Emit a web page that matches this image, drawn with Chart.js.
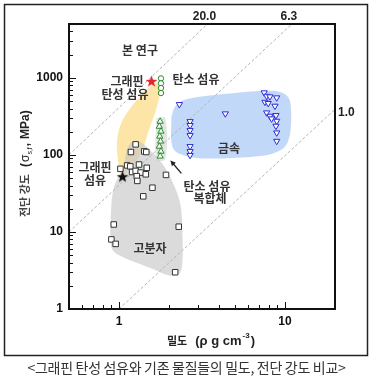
<!DOCTYPE html>
<html>
<head>
<meta charset="utf-8">
<script src="https://cdn.jsdelivr.net/npm/chart.js@4/dist/chart.umd.min.js"></script>
<style>
  body { margin: 0; background: #fff; width: 373px; height: 392px; position: relative; overflow: hidden; }
  #chart { position: absolute; left: 0; top: 0; }
  #caption { position: absolute; left: 0; top: 357px; width: 373px; text-align: center;
             font: 14px "Noto Sans CJK KR", sans-serif; color: #333; line-height: 20px; letter-spacing: -0.3px; }
</style>
</head>
<body>
<canvas id="chart" width="373" height="358"></canvas>
<div id="caption">&lt;그래핀 탄성 섬유와 기존 물질들의 밀도, 전단 강도 비교&gt;</div>
<script>
// axis ticks (밀도 / 전단 강도)
const densityTicks = [1, 10];
const strengthTicks = [1, 10, 100, 1000];

// 본 연구 - 그래핀 탄성 섬유
const elasticFiber = [{x: 1.57, y: 900}];
// 기존 그래핀 섬유
const grapheneFiber = [{x: 1.05, y: 52}];
// 탄소 섬유
const carbonFiber = [{x: 1.79, y: 985}, {x: 1.79, y: 849}, {x: 1.79, y: 737}, {x: 1.79, y: 635}];
// 탄소 섬유 복합체
const carbonComposite = [
    {x: 1.77, y: 272}, {x: 1.75, y: 234}, {x: 1.79, y: 202}, {x: 1.76, y: 174},
    {x: 1.78, y: 150}, {x: 1.75, y: 129}, {x: 1.79, y: 111}, {x: 1.77, y: 96}
];
// 금속
const metals = [
    {x: 2.31, y: 453}, {x: 4.37, y: 343},
    {x: 2.68, y: 272}, {x: 2.68, y: 242}, {x: 2.68, y: 208}, {x: 2.68, y: 179},
    {x: 2.68, y: 129}, {x: 2.68, y: 111}, {x: 2.68, y: 99},
    {x: 7.49, y: 643}, {x: 7.75, y: 580}, {x: 8.11, y: 570}, {x: 8.91, y: 553},
    {x: 7.57, y: 485}, {x: 7.92, y: 467}, {x: 8.70, y: 431}, {x: 7.75, y: 353},
    {x: 8.11, y: 319}, {x: 8.82, y: 326}, {x: 8.30, y: 295}, {x: 8.91, y: 275},
    {x: 8.82, y: 237}, {x: 8.91, y: 194}, {x: 8.91, y: 151}
];
// 고분자
const polymers = [
    {x: 1.26, y: 137}, {x: 1.18, y: 109}, {x: 1.42, y: 111}, {x: 1.46, y: 109},
    {x: 1.02, y: 66}, {x: 1.12, y: 73}, {x: 1.17, y: 71}, {x: 1.32, y: 75},
    {x: 1.47, y: 68}, {x: 1.20, y: 60}, {x: 1.26, y: 62}, {x: 1.35, y: 59},
    {x: 1.45, y: 56}, {x: 1.28, y: 53}, {x: 1.29, y: 46}, {x: 1.92, y: 55},
    {x: 1.59, y: 37.5}, {x: 1.40, y: 29}, {x: 0.93, y: 12.5}, {x: 2.29, y: 11.7},
    {x: 0.90, y: 8.0}, {x: 0.955, y: 7.0}, {x: 2.18, y: 3.0}
];

// shaded regions (outline vertices)
const elasticRegion = [
    {x: 1.014, y: 55.8}, {x: 0.972, y: 118}, {x: 0.986, y: 185}, {x: 1.043, y: 272},
    {x: 1.182, y: 414}, {x: 1.418, y: 648}, {x: 1.585, y: 800}, {x: 1.747, y: 849},
    {x: 1.772, y: 668}, {x: 1.676, y: 390}, {x: 1.52, y: 214}, {x: 1.398, y: 125},
    {x: 1.25, y: 80}, {x: 1.118, y: 61}, {x: 1.014, y: 55.8}
];
const polymerRegion = [
    {x: 1.072, y: 64.8}, {x: 1.118, y: 118}, {x: 1.216, y: 150}, {x: 1.36, y: 145},
    {x: 1.52, y: 118}, {x: 1.797, y: 80}, {x: 2.096, y: 45.3}, {x: 2.343, y: 22.8},
    {x: 2.41, y: 9.3}, {x: 2.41, y: 4.14}, {x: 2.31, y: 2.89}, {x: 2.01, y: 2.72},
    {x: 1.63, y: 3.26}, {x: 0.959, y: 5.26}, {x: 0.894, y: 6.88}, {x: 0.894, y: 16.9},
    {x: 0.92, y: 33.6}, {x: 0.986, y: 51}, {x: 1.072, y: 64.8}
];
const metalRegion = [
    {x: 2.066, y: 307}, {x: 2.185, y: 427}, {x: 2.547, y: 526}, {x: 4.84, y: 629},
    {x: 8.46, y: 678}, {x: 10.0, y: 611}, {x: 10.72, y: 495}, {x: 10.87, y: 249},
    {x: 10.43, y: 150}, {x: 9.59, y: 118}, {x: 7.56, y: 98.5}, {x: 3.18, y: 90},
    {x: 2.375, y: 101}, {x: 2.096, y: 129}, {x: 2.066, y: 307}
];
const compositeRegion = [
    {x: 1.68, y: 300}, {x: 1.90, y: 300}, {x: 1.90, y: 88}, {x: 1.68, y: 88}, {x: 1.68, y: 300}
];

// specific strength guide lines
const guide20 = [{x: 0.5, y: 100}, {x: 3.41, y: 5000}];
const guide63 = [{x: 0.5, y: 10}, {x: 11, y: 5000}];
const guide10 = [{x: 1, y: 1}, {x: 20, y: 390}];
const guideLabels = ['20.0', '6.3', '1.0'];

const KR = '"Noto Sans CJK KR", sans-serif';
const LAT = '"Liberation Sans", Arial, sans-serif';

function makeStar(color) {
    const c = document.createElement('canvas');
    c.width = 13; c.height = 13;
    const g = c.getContext('2d');
    g.beginPath();
    for (let i = 0; i < 10; i++) {
        const r = i % 2 === 0 ? 6.2 : 2.5;
        const a = -Math.PI / 2 + i * Math.PI / 5;
        const px = 6.5 + Math.cos(a) * r, py = 6.8 + Math.sin(a) * r;
        if (i === 0) g.moveTo(px, py); else g.lineTo(px, py);
    }
    g.closePath();
    g.fillStyle = color;
    g.fill();
    return c;
}

function region(data, color) {
    return {
        data: data, showLine: true, fill: 'shape', backgroundColor: color,
        borderWidth: 0, borderColor: 'rgba(0,0,0,0)', pointRadius: 0, tension: 0.35, order: 10
    };
}
function guide(data) {
    return {
        data: data, showLine: true, fill: false, borderColor: '#b4b4b4', borderWidth: 1,
        borderDash: [3, 2], pointRadius: 0, order: 5
    };
}
function marks(data, style, color, radius, rotation) {
    return {
        data: data, pointStyle: style, pointRadius: radius, rotation: rotation || 0,
        borderColor: color, backgroundColor: '#fff', pointBorderWidth: 1, borderWidth: 1, order: 1
    };
}

const decor = {
    id: 'decor',
    afterDraw(chart) {
        const {ctx, chartArea: a, scales: {x, y}} = chart;
        ctx.save();

        // outer frame and plot box
        ctx.strokeStyle = '#222';
        ctx.lineWidth = 1.5;
        ctx.strokeRect(4.5, 4.5, 363, 351);
        ctx.lineWidth = 2;
        ctx.strokeStyle = '#111';
        ctx.strokeRect(a.left, a.top, a.right - a.left, a.bottom - a.top);

        // inward tick marks
        ctx.lineWidth = 1;
        ctx.beginPath();
        for (let d = 1; d <= 1000; d *= 10) {
            for (let k = 1; k <= 9; k++) {
                const v = k * d;
                if (v > 5000) break;
                const py = Math.round(y.getPixelForValue(v)) + 0.5;
                const len = k === 1 ? 7 : 4;
                ctx.moveTo(a.left, py); ctx.lineTo(a.left + len, py);
            }
        }
        for (let d = 0.1; d <= 10; d *= 10) {
            for (let k = 1; k <= 9; k++) {
                const v = k * d;
                if (v <= 0.5 || v >= 20) continue;
                const px = Math.round(x.getPixelForValue(v)) + 0.5;
                const len = k === 1 ? 7 : 4;
                ctx.moveTo(px, a.bottom); ctx.lineTo(px, a.bottom - len);
            }
        }
        ctx.stroke();

        // guide line labels
        ctx.fillStyle = '#222';
        ctx.font = 'bold 12px ' + LAT;
        ctx.textBaseline = 'middle';
        ctx.textAlign = 'center';
        ctx.fillText(guideLabels[0], x.getPixelForValue(guide20[1].x) - 3, 17);
        ctx.fillText(guideLabels[1], x.getPixelForValue(guide63[1].x) - 3, 17);
        ctx.textAlign = 'left';
        ctx.fillText(guideLabels[2], a.right + 3, y.getPixelForValue(guide10[1].y) + 3);

        // region / material labels
        ctx.fillStyle = '#333';
        ctx.font = 'bold 12px ' + KR;
        ctx.textAlign = 'center';
        const labels = [
            ['본 연구', 140, 50], ['그래핀', 127, 81], ['탄성 섬유', 125, 94],
            ['탄소 섬유', 196, 79], ['그래핀', 95, 167], ['섬유', 95, 180],
            ['탄소 섬유', 207, 186], ['복합체', 210, 198], ['금속', 229, 148], ['고분자', 150, 248]
        ];
        labels.forEach(l => ctx.fillText(l[0], l[1], l[2]));

        // arrow toward carbon fibre composites
        const tx = x.getPixelForValue(2.375), ty = y.getPixelForValue(57.5);
        const hx = x.getPixelForValue(2.04), hy = y.getPixelForValue(84.8);
        const ang = Math.atan2(hy - ty, hx - tx);
        ctx.strokeStyle = '#222';
        ctx.lineWidth = 1.3;
        ctx.beginPath();
        ctx.moveTo(tx, ty);
        ctx.lineTo(hx - Math.cos(ang) * 4, hy - Math.sin(ang) * 4);
        ctx.stroke();
        ctx.fillStyle = '#222';
        ctx.beginPath();
        ctx.moveTo(hx, hy);
        ctx.lineTo(hx - Math.cos(ang - 0.45) * 6, hy - Math.sin(ang - 0.45) * 6);
        ctx.lineTo(hx - Math.cos(ang + 0.45) * 6, hy - Math.sin(ang + 0.45) * 6);
        ctx.closePath();
        ctx.fill();

        // x axis title: 밀도 (ρ g cm-3)
        ctx.textAlign = 'left';
        ctx.textBaseline = 'alphabetic';
        ctx.fillStyle = '#222';
        let cx = 167;
        const by = 345;
        ctx.font = 'bold 11px ' + KR;
        ctx.fillText('밀도', cx, by);
        cx += ctx.measureText('밀도').width + 8;
        ctx.font = 'bold 13px ' + LAT;
        ctx.fillText('(ρ g cm', cx, by);
        cx += ctx.measureText('(ρ g cm').width + 1;
        ctx.font = 'bold 8px ' + LAT;
        ctx.fillText('-3', cx, by - 7);
        cx += ctx.measureText('-3').width + 1;
        ctx.font = 'bold 13px ' + LAT;
        ctx.fillText(')', cx, by);

        // y axis title: 전단 강도 (σs,f MPa)
        ctx.translate(29, 217);
        ctx.rotate(-Math.PI / 2);
        let cy = 0;
        ctx.font = 'bold 11px ' + KR;
        ctx.fillStyle = '#444';
        ctx.fillText('전단 강도', cy, 0);
        cy += ctx.measureText('전단 강도').width + 7;
        ctx.fillStyle = '#222';
        ctx.font = 'bold 12px ' + LAT;
        ctx.fillText('(', cy, 0);
        cy += ctx.measureText('(').width + 1;
        ctx.font = '12px ' + LAT;
        ctx.fillText('σ', cy, 0);
        cy += ctx.measureText('σ').width;
        ctx.font = '7px ' + LAT;
        ctx.fillText('s,f', cy, 3);
        cy += ctx.measureText('s,f').width + 1;
        ctx.font = 'bold 12px ' + LAT;
        ctx.fillText(',', cy, 0);
        cy += ctx.measureText(',').width + 4;
        ctx.fillText('MPa)', cy, 0);

        ctx.restore();
    }
};

const tickFont = {family: '"Liberation Sans", Arial, sans-serif', size: 12, weight: 'bold'};

new Chart(document.getElementById('chart'), {
    type: 'scatter',
    data: {
        datasets: [
            region(metalRegion, 'rgba(160,195,245,0.65)'),
            region(polymerRegion, 'rgba(195,195,195,0.6)'),
            region(elasticRegion, 'rgba(250,215,120,0.65)'),
            region(compositeRegion, 'rgba(200,210,200,0.55)'),
            guide(guide20),
            guide(guide63),
            guide(guide10),
            marks(polymers, 'rect', '#333', 3.9),
            marks(metals, 'triangle', '#2b2bd9', 3.6, 180),
            marks(carbonComposite, 'triangle', '#2a8a2a', 3.6),
            marks(carbonFiber, 'circle', '#2a8a2a', 2.7),
            {data: grapheneFiber, pointStyle: makeStar('#111'), pointRadius: 6, order: 0},
            {data: elasticFiber, pointStyle: makeStar('#e8232a'), pointRadius: 6, order: 0}
        ]
    },
    options: {
        responsive: false,
        animation: false,
        events: [],
        layout: {padding: {left: 0, right: 38, top: 24, bottom: 0}},
        plugins: {legend: {display: false}, tooltip: {enabled: false}},
        scales: {
            x: {
                type: 'logarithmic', min: 0.5, max: 20,
                grid: {display: false, drawTicks: false}, border: {display: false},
                afterBuildTicks: s => { s.ticks = densityTicks.map(v => ({value: v})); },
                afterFit: s => { s.height = 49; },
                ticks: {callback: v => String(v), font: tickFont, color: '#111', padding: 5, autoSkip: false, maxRotation: 0}
            },
            y: {
                type: 'logarithmic', min: 1, max: 5000,
                grid: {display: false, drawTicks: false}, border: {display: false},
                afterBuildTicks: s => { s.ticks = strengthTicks.map(v => ({value: v})); },
                afterFit: s => { s.width = 69; },
                ticks: {callback: v => String(v), font: tickFont, color: '#111', padding: 6, autoSkip: false}
            }
        }
    },
    plugins: [decor]
});
</script>
</body>
</html>
